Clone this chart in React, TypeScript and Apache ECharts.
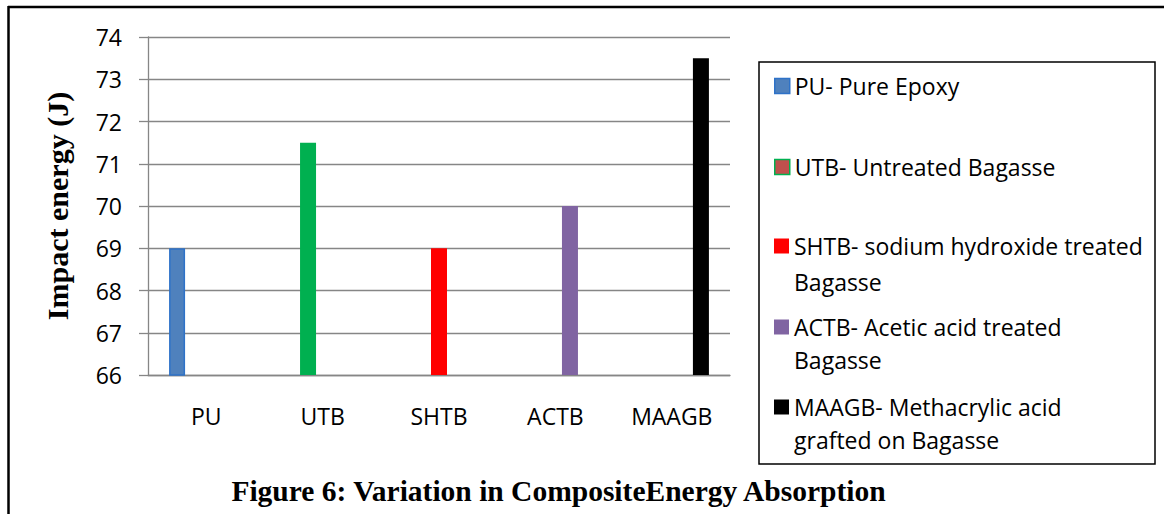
import React, { useEffect, useRef } from "react";
import * as echarts from "echarts";

const categories = ["PU", "UTB", "SHTB", "ACTB", "MAAGB"];
const values = [69, 71.5, 69, 70, 73.5];
const seriesNames = [
  "PU- Pure Epoxy",
  "UTB- Untreated Bagasse",
  "SHTB- sodium hydroxide treated\nBagasse",
  "ACTB- Acetic acid treated\nBagasse",
  "MAAGB- Methacrylic acid\ngrafted on Bagasse",
];
const barColors = ["#4F81BD", "#00B050", "#FF0000", "#8064A2", "#000000"];
const yTicks = { min: 66, max: 74, interval: 1 };
const yAxisTitle = "Impact energy (J)";
const figureTitle = "Figure 6: Variation in CompositeEnergy Absorption";

export default function App() {
  const ref = useRef<HTMLDivElement>(null);
  useEffect(() => {
    if (!ref.current) return;
    const chart = echarts.init(ref.current, null, { renderer: "svg" });
    const sans = "'Open Sans', 'Noto Sans', sans-serif";
    const serif = "'Liberation Serif', 'DejaVu Serif', serif";
    const firstLineY = [86, 167, 246, 327, 407];
    const lineHeights = [34, 34, 36, 33, 33];

    const series = seriesNames.map((name, i) => ({
      type: "bar" as const,
      name,
      barWidth: 16,
      barGap: "-9%",
      data: categories.map((_, j) => (j === i ? values[i] : "-")),
      itemStyle:
        i === 0
          ? { color: barColors[i], borderColor: "#2E72C8", borderWidth: 1.5 }
          : { color: barColors[i] },
    }));

    const legends = seriesNames.map((name, i) => {
      const twoLine = name.includes("\n");
      const lh = lineHeights[i];
      const itemStyle =
        i === 0
          ? { color: barColors[0], borderColor: "#2E72C8", borderWidth: 1.5 }
          : i === 1
          ? { color: "#C0504D", borderColor: "#00B050", borderWidth: 1.5 }
          : { color: barColors[i], borderWidth: 0 };
      return {
        data: [{ name, icon: "rect", itemStyle }],
        orient: "vertical" as const,
        left: 774,
        top: twoLine ? firstLineY[i] - lh * 1.5 : firstLineY[i] - lh / 2,
        padding: 0,
        itemWidth: 15,
        itemHeight: 15,
        selectedMode: false,
        formatter: (n: string) => (n.includes("\n") ? "\n" + n : n),
        textStyle: {
          fontFamily: sans,
          fontSize: 23,
          color: "#000",
          lineHeight: lh,
        },
      };
    });

    chart.setOption({
      animation: false,
      backgroundColor: "#fff",
      grid: { left: 148, right: 434, top: 37, bottom: 139, containLabel: false },
      xAxis: {
        type: "category",
        data: categories,
        axisLine: { show: true, lineStyle: { color: "#868686", width: 1.3 } },
        axisTick: { show: false },
        axisLabel: { fontFamily: sans, fontSize: 23, color: "#000", margin: 29 },
      },
      yAxis: {
        type: "value",
        min: yTicks.min,
        max: yTicks.max,
        interval: yTicks.interval,
        name: yAxisTitle,
        nameLocation: "middle",
        nameGap: 76,
        nameTextStyle: { fontFamily: serif, fontWeight: "bold", fontSize: 30, color: "#000" },
        axisLine: { show: true, lineStyle: { color: "#868686", width: 1.3 } },
        axisTick: { show: true, inside: false, length: 9, lineStyle: { color: "#868686", width: 1.3 } },
        splitLine: { show: true, lineStyle: { color: "#868686", width: 1.3 } },
        axisLabel: { fontFamily: sans, fontSize: 23, color: "#000", margin: 26 },
      },
      legend: legends,
      series,
      graphic: [
        { type: "line", shape: { x1: 8, y1: 7, x2: 1164, y2: 7 }, style: { stroke: "#000", lineWidth: 2.5 } },
        { type: "line", shape: { x1: 8.5, y1: 6, x2: 8.5, y2: 514 }, style: { stroke: "#000", lineWidth: 2.5 } },
        {
          type: "rect",
          shape: { x: 759, y: 62, width: 396, height: 402 },
          style: { fill: "none", stroke: "#000", lineWidth: 1.5 },
          z: -1,
        },
        {
          type: "text",
          x: 558.5,
          y: 491,
          style: {
            text: figureTitle,
            fontFamily: serif,
            fontWeight: "bold",
            fontSize: 29.5,
            fill: "#000",
            align: "center",
            verticalAlign: "middle",
          },
        },
      ],
    });
    return () => chart.dispose();
  }, []);
  return (
    <div
      ref={ref}
      style={{ position: "fixed", left: 0, top: 0, width: 1164, height: 514 }}
    />
  );
}
